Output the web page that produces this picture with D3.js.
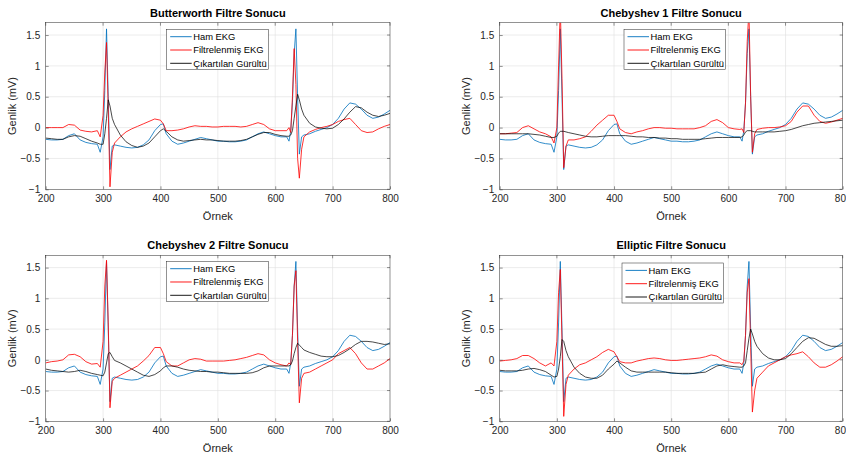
<!DOCTYPE html>
<html>
<head>
<meta charset="utf-8">
<script src="https://cdn.jsdelivr.net/npm/d3@7"></script>
<style>
  body { margin: 0; background: #fff; }
  svg { font-family: "Liberation Sans", Arial, sans-serif; }
</style>
</head>
<body>
<svg id="chart" width="846" height="455"></svg>
<script>
// sample indices shared by every series
const samples = [200,210,220,230,240,250,260,270,280,290,295,300,303,306,309,312,316,320,330,340,350,360,370,380,390,400,405,410,420,430,440,450,460,470,480,490,500,510,520,530,540,550,560,570,580,590,600,610,620,624,627,630,633,636,639,642,646,650,660,670,680,690,700,710,720,730,740,750,760,770,780,790,800];

// raw ECG (same in every panel)
const rawEKG = [-0.19,-0.2,-0.2,-0.19,-0.13,-0.1,-0.2,-0.24,-0.26,-0.27,-0.4,-0.15,0.6,1.6,0.5,-0.68,-0.3,-0.28,-0.3,-0.32,-0.33,-0.32,-0.28,-0.2,-0.05,0.05,0.06,-0.1,-0.22,-0.27,-0.25,-0.22,-0.19,-0.16,-0.18,-0.2,-0.22,-0.22,-0.23,-0.23,-0.22,-0.2,-0.15,-0.1,-0.07,-0.1,-0.13,-0.15,-0.15,-0.22,-0.05,0.4,1.2,1.6,0.5,-0.43,-0.15,-0.12,-0.1,-0.06,-0.03,0.0,0.05,0.15,0.3,0.4,0.38,0.3,0.2,0.15,0.17,0.22,0.28];

const butterFiltered = [0.0,0.0,0.0,0.0,0.05,0.04,-0.04,-0.06,-0.07,-0.05,-0.15,0.2,0.9,1.38,0.3,-0.96,-0.4,-0.25,-0.15,-0.07,-0.02,0.02,0.06,0.1,0.14,0.12,0.06,-0.05,-0.05,-0.04,-0.02,0.01,0.03,0.02,0.02,0.01,0.01,0.02,0.02,0.02,0.01,0.02,0.05,0.08,0.05,-0.02,-0.05,-0.05,-0.05,0.0,-0.08,0.5,1.28,0.7,-0.5,-0.82,-0.35,-0.15,-0.07,-0.03,0.0,0.02,0.05,0.1,0.13,0.15,0.05,-0.05,-0.08,-0.07,-0.02,0.02,0.05];
const butterNoise = [-0.17,-0.18,-0.19,-0.19,-0.15,-0.13,-0.14,-0.18,-0.22,-0.25,-0.27,-0.27,-0.1,0.15,0.45,0.35,0.15,0.05,-0.12,-0.23,-0.29,-0.32,-0.3,-0.25,-0.15,-0.05,-0.02,-0.06,-0.15,-0.2,-0.22,-0.21,-0.2,-0.19,-0.2,-0.2,-0.21,-0.22,-0.22,-0.22,-0.21,-0.19,-0.15,-0.11,-0.08,-0.08,-0.11,-0.13,-0.14,-0.14,-0.12,-0.05,0.15,0.35,0.54,0.45,0.3,0.2,0.07,0.01,-0.01,-0.02,-0.01,0.05,0.14,0.25,0.34,0.32,0.25,0.2,0.18,0.2,0.23];

const cheby1Filtered = [-0.1,-0.1,-0.09,-0.08,0.0,0.03,-0.02,-0.07,-0.1,-0.15,-0.25,0.0,1.0,1.95,0.8,-0.65,-0.3,-0.2,-0.2,-0.18,-0.15,-0.06,0.04,0.12,0.2,0.2,0.1,-0.02,-0.08,-0.1,-0.07,-0.05,-0.02,0.0,0.0,-0.01,-0.01,-0.02,-0.02,-0.02,-0.02,0.0,0.03,0.1,0.13,0.08,0.0,-0.02,-0.03,-0.02,-0.08,0.4,1.4,1.9,0.5,-0.4,-0.1,-0.03,-0.01,0.0,0.0,0.01,0.03,0.1,0.25,0.35,0.35,0.2,0.1,0.07,0.09,0.12,0.15];
const cheby1Noise = [-0.1,-0.1,-0.1,-0.1,-0.1,-0.1,-0.11,-0.12,-0.14,-0.16,-0.16,-0.14,-0.09,-0.06,-0.06,-0.06,-0.07,-0.08,-0.1,-0.12,-0.14,-0.15,-0.15,-0.14,-0.13,-0.13,-0.13,-0.13,-0.13,-0.14,-0.15,-0.15,-0.16,-0.16,-0.17,-0.17,-0.18,-0.18,-0.19,-0.19,-0.19,-0.19,-0.18,-0.17,-0.16,-0.16,-0.16,-0.16,-0.16,-0.15,-0.12,-0.07,-0.05,-0.05,-0.05,-0.06,-0.07,-0.07,-0.07,-0.07,-0.07,-0.06,-0.05,-0.03,0.0,0.03,0.05,0.07,0.08,0.09,0.1,0.11,0.12];

const cheby2Filtered = [-0.05,-0.03,-0.02,0.0,0.08,0.09,0.05,-0.03,-0.07,-0.06,-0.12,0.3,1.2,1.62,0.6,-0.78,-0.35,-0.3,-0.25,-0.2,-0.15,-0.1,-0.02,0.07,0.2,0.2,0.1,-0.03,-0.1,-0.1,-0.05,0.0,0.02,0.01,-0.02,-0.02,-0.02,-0.02,-0.01,0.0,0.02,0.04,0.07,0.1,0.08,0.0,-0.05,-0.08,-0.1,-0.05,-0.08,0.4,1.2,1.45,0.3,-0.7,-0.3,-0.22,-0.2,-0.15,-0.1,-0.05,0.0,0.1,0.15,0.2,0.1,-0.05,-0.15,-0.15,-0.1,-0.05,0.02];
const cheby2Noise = [-0.15,-0.17,-0.18,-0.19,-0.2,-0.19,-0.17,-0.19,-0.22,-0.24,-0.25,-0.26,-0.2,-0.05,0.1,0.12,0.05,-0.01,-0.05,-0.1,-0.15,-0.2,-0.25,-0.27,-0.24,-0.18,-0.13,-0.1,-0.1,-0.12,-0.15,-0.17,-0.18,-0.19,-0.19,-0.2,-0.2,-0.21,-0.22,-0.22,-0.22,-0.22,-0.21,-0.18,-0.13,-0.1,-0.1,-0.1,-0.1,-0.1,-0.08,-0.02,0.1,0.2,0.27,0.24,0.2,0.16,0.12,0.09,0.06,0.05,0.05,0.07,0.12,0.18,0.25,0.3,0.3,0.29,0.27,0.25,0.26];

const ellipFiltered = [-0.02,-0.01,0.0,0.02,0.07,0.07,0.02,-0.05,-0.1,-0.05,-0.1,0.3,1.1,1.47,0.3,-0.92,-0.4,-0.25,-0.15,-0.08,-0.05,0.0,0.05,0.12,0.17,0.13,0.05,-0.03,-0.05,-0.05,-0.02,0.0,0.02,0.03,0.02,0.0,-0.01,-0.01,0.0,0.01,0.02,0.03,0.05,0.08,0.06,0.0,-0.03,-0.05,-0.05,-0.08,-0.02,0.4,1.1,1.32,0.2,-0.85,-0.5,-0.3,-0.2,-0.1,-0.05,0.0,0.05,0.08,0.1,0.13,0.05,-0.05,-0.12,-0.12,-0.08,-0.02,0.05];
const ellipNoise = [-0.17,-0.18,-0.18,-0.18,-0.17,-0.15,-0.14,-0.16,-0.19,-0.25,-0.28,-0.27,-0.15,0.05,0.33,0.3,0.15,0.05,-0.12,-0.22,-0.28,-0.3,-0.3,-0.25,-0.15,-0.07,-0.02,-0.05,-0.12,-0.18,-0.2,-0.2,-0.2,-0.2,-0.2,-0.2,-0.21,-0.22,-0.22,-0.22,-0.22,-0.21,-0.2,-0.15,-0.1,-0.08,-0.1,-0.11,-0.12,-0.12,-0.1,-0.05,0.15,0.35,0.5,0.42,0.3,0.22,0.1,0.03,0.0,0.0,0.02,0.1,0.2,0.3,0.36,0.35,0.3,0.25,0.22,0.22,0.23];

const titles = ['Butterworth Filtre Sonucu', 'Chebyshev 1 Filtre Sonucu', 'Chebyshev 2 Filtre Sonucu', 'Elliptic Filtre Sonucu'];
const legendLabels = ['Ham EKG', 'Filtrelenmiş EKG', 'Çıkartılan Gürültü'];
const xTicks = [200, 300, 400, 500, 600, 700, 800];
const yTicks = [-1, -0.5, 0, 0.5, 1, 1.5];

const lineColors = ['#0072BD', '#FF0000', '#000000'];

const svg = d3.select('#chart');

// panel positions (MATLAB subplot 2x2)
const panels = [
  { left: 45.7, top: 22.7, width: 344.3, height: 166.6, filtered: butterFiltered, noise: butterNoise, legX: 166.7, legY: 29.3 },
  { left: 499.7, top: 22.7, width: 343, height: 166.6, filtered: cheby1Filtered, noise: cheby1Noise, legX: 624, legY: 29.3 },
  { left: 45.7, top: 255.3, width: 344.3, height: 166, filtered: cheby2Filtered, noise: cheby2Noise, legX: 166.7, legY: 261.3 },
  { left: 499.7, top: 255.3, width: 343, height: 166, filtered: ellipFiltered, noise: ellipNoise, legX: 622, legY: 263 }
];

panels.forEach((p, pi) => {
  const g = svg.append('g').attr('transform', `translate(${p.left},${p.top})`);
  const x = d3.scaleLinear().domain([200, 800]).range([0, p.width]);
  const y = d3.scaleLinear().domain([-1, 1.7]).range([p.height, 0]);

  g.append('rect').attr('width', p.width).attr('height', p.height).attr('fill', '#fff');

  // grid
  g.append('g').selectAll('line.vx').data(xTicks.slice(1, -1)).join('line')
    .attr('x1', d => x(d)).attr('x2', d => x(d)).attr('y1', 0).attr('y2', p.height)
    .attr('stroke', '#dfdfdf').attr('stroke-width', 0.6);
  g.append('g').selectAll('line.hy').data(yTicks.slice(1)).join('line')
    .attr('x1', 0).attr('x2', p.width).attr('y1', d => y(d)).attr('y2', d => y(d))
    .attr('stroke', '#dfdfdf').attr('stroke-width', 0.6);

  // lines, clipped to the axes
  const clipId = 'clip' + pi;
  g.append('clipPath').attr('id', clipId).append('rect').attr('width', p.width).attr('height', p.height);
  const line = d3.line().x((d, i) => x(samples[i])).y(d => y(d));
  const series = [rawEKG, p.filtered, p.noise];
  g.append('g').attr('clip-path', `url(#${clipId})`)
    .selectAll('path').data(series).join('path')
    .attr('d', d => line(d))
    .attr('fill', 'none')
    .attr('stroke', (d, i) => lineColors[i])
    .attr('stroke-opacity', (d, i) => i === 2 ? 0.8 : 0.9)
    .attr('stroke-width', 0.9)
    .attr('stroke-linejoin', 'round');

  // axes
  const xAxis = d3.axisBottom(x).tickValues(xTicks).tickSize(-3).tickPadding(6).tickFormat(d3.format('d'));
  const yAxis = d3.axisLeft(y).tickValues(yTicks).tickSize(-3).tickPadding(5.5).tickFormat(d => d3.format('')(d));
  const xg = g.append('g').attr('transform', `translate(0,${p.height})`).call(xAxis);
  const yg = g.append('g').call(yAxis);
  [xg, yg].forEach(a => {
    a.select('.domain').remove();
    a.selectAll('line').attr('stroke', '#262626').attr('stroke-width', 0.5);
    a.selectAll('text').attr('fill', '#262626').style('font-size', '10px');
  });
  // top tick marks too (MATLAB box)
  g.append('g').selectAll('line').data(xTicks).join('line')
    .attr('x1', d => x(d)).attr('x2', d => x(d)).attr('y1', 0).attr('y2', 3)
    .attr('stroke', '#262626').attr('stroke-width', 0.5);
  g.append('g').selectAll('line').data(yTicks).join('line')
    .attr('x1', p.width - 3).attr('x2', p.width).attr('y1', d => y(d)).attr('y2', d => y(d))
    .attr('stroke', '#262626').attr('stroke-width', 0.5);

  g.append('rect').attr('width', p.width).attr('height', p.height)
    .attr('fill', 'none').attr('stroke', '#262626').attr('stroke-width', 0.5);

  // labels
  g.append('text').attr('x', p.width / 2).attr('y', -6).attr('text-anchor', 'middle')
    .style('font-size', '11px').style('font-weight', 'bold').attr('fill', '#000').text(titles[pi]);
  g.append('text').attr('x', p.width / 2).attr('y', p.height + 31).attr('text-anchor', 'middle')
    .style('font-size', '11px').attr('fill', '#262626').text('Örnek');
  g.append('text').attr('transform', `translate(${-30},${p.height / 2}) rotate(-90)`).attr('text-anchor', 'middle')
    .style('font-size', '11px').attr('fill', '#262626').text('Genlik (mV)');

  // legend
  const lg = svg.append('g').attr('transform', `translate(${p.legX},${p.legY})`);
  lg.append('rect').attr('width', 101.6).attr('height', 40).attr('fill', '#fff')
    .attr('stroke', '#262626').attr('stroke-width', 0.5);
  legendLabels.forEach((lab, i) => {
    const yy = 7.4 + i * 13.3;
    lg.append('line').attr('x1', 3.5).attr('x2', 25).attr('y1', yy).attr('y2', yy)
      .attr('stroke', lineColors[i]).attr('stroke-width', 0.9);
    lg.append('text').attr('x', 26.5).attr('y', yy + 3.3).style('font-size', '9.4px')
      .attr('fill', '#000').text(lab);
  });
});
</script>
</body>
</html>
